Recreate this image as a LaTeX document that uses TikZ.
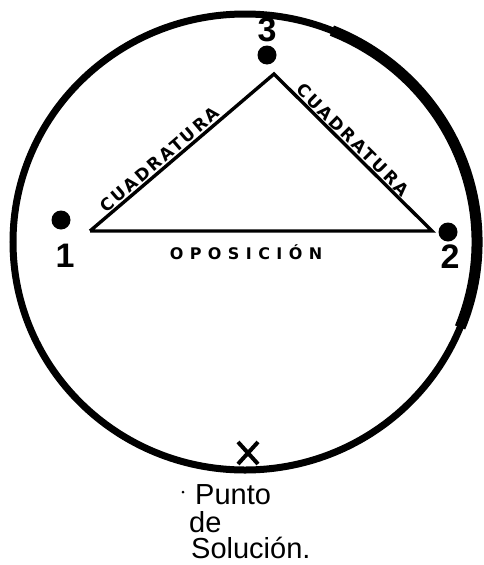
\documentclass[tikz,border=0pt]{standalone}
\usepackage{fontspec}
\setmainfont{Liberation Sans}
\newfontfamily\capsfont[LetterSpace=14]{DejaVu Sans Bold}
\newfontfamily\wideopfont[LetterSpace=40]{DejaVu Sans Bold}
\begin{document}
\begin{tikzpicture}[x=1pt,y=-1pt,
  ring/.style={line width=7pt},
  ringthick/.style={line width=11pt},
  edge/.style={line width=3.4pt},
  planet/.style={circle,fill=black,inner sep=0pt,minimum size=19pt},
  numlabel/.style={font=\fontsize{34}{34}\selectfont\bfseries,inner sep=0pt},
  aspect/.style={font=\capsfont\fontsize{17}{17}\selectfont,inner sep=1pt},
  hand/.style={font=\fontsize{29}{29}\selectfont,inner sep=0pt,anchor=west}]
\useasboundingbox (0,0) rectangle (483,565);
% circle
\coordinate (c) at (245,242);
\draw[ring] (c) ellipse [x radius=232, y radius=228];
\draw[ringthick] ([shift={(-68:232 and 228)}]c) arc[start angle=-68,end angle=22,x radius=232,y radius=228];
% triangle vertices
\coordinate (v1) at (90,231);
\coordinate (v2) at (432,231);
\coordinate (v3) at (274,74);
\draw[edge,line join=miter] (v1) -- node[aspect,sloped,above,pos=0.41] {CUADRATURA} (v3)
  -- node[aspect,sloped,above,pos=0.46] {CUADRATURA} (v2)
  -- (v1);
\node[font=\wideopfont\fontsize{16}{16}\selectfont,inner sep=0pt] (op) at (246,252) {OPOSICIÓN};
% planets
\node[planet] (p1) at (61,220) {};
\node[planet] (p2) at (448,232) {};
\node[planet] (p3) at (267,55) {};
\node[numlabel] (n1) at (65,256) {1};
\node[numlabel] (n2) at (450,257) {2};
\node[numlabel] (n3) at (267,30) {3};
% solution point
\coordinate (x) at (248,453);
\draw[line width=4pt] ([shift={(-10,-11)}]x) -- ([shift={(10,11)}]x)
  ([shift={(10,-11)}]x) -- ([shift={(-10,11)}]x);
\fill (183,492) circle (1.5pt);
\node[hand] (t1) at (195,495) {Punto};
\node[hand] (t2) at (189,522) {de};
\node[hand] (t3) at (191,548) {Solución.};
\end{tikzpicture}
\end{document}
